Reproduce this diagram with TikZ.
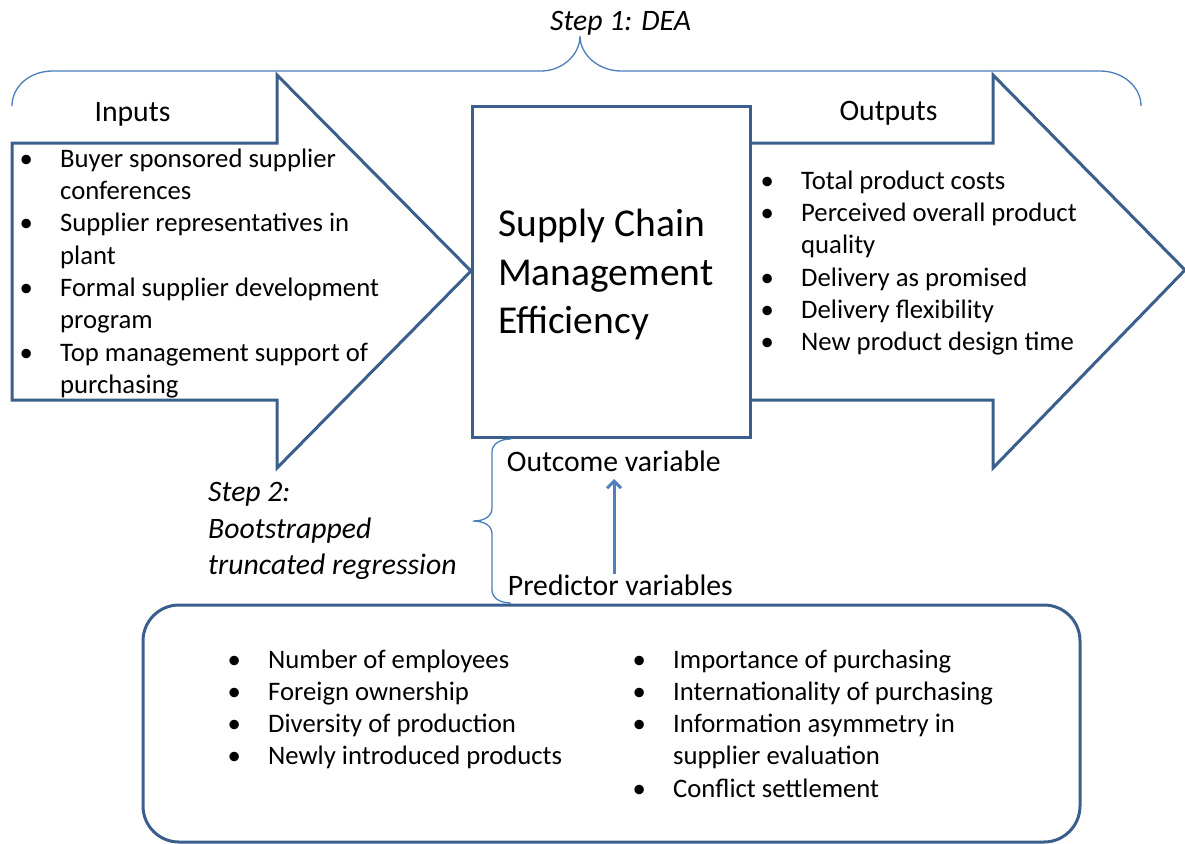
\documentclass[tikz,border=0pt]{standalone}
\usepackage{fontspec}
\setmainfont{Carlito}
\usetikzlibrary{arrows.meta}
\definecolor{shapeblue}{HTML}{3B5F8C}
\definecolor{braceblue}{HTML}{4A7EBB}
\definecolor{arrowblue}{HTML}{4F81BD}
\newcommand{\bitem}[1]{\makebox[12pt][c]{\textbullet}\hspace{28pt}#1}
\newcommand{\bcont}[1]{\hspace*{40pt}#1}
\begin{document}
\begin{tikzpicture}[x=1pt,y=-1pt,
  shapeline/.style={draw=shapeblue, line width=3pt, line join=miter, fill=white},
  bracel/.style={draw=braceblue, line width=1.3pt},
  txt/.style={inner sep=0pt, anchor=base west, align=left},
  bul/.style={txt, font=\fontsize{26.7}{32.3}\selectfont},
  head/.style={inner sep=0pt, anchor=base, font=\fontsize{29.7}{36}\selectfont},
  lab/.style={txt, font=\fontsize{29.7}{36}\selectfont},
]
\useasboundingbox (0,0) rectangle (1185,843);

% top brace (Step 1)
\draw[bracel] (12,106) .. controls (12,87) and (29,71) .. (53,71) -- (541,71)
  .. controls (562,71) and (580,55) .. (580,36)
  .. controls (580,55) and (599,71) .. (621,71) -- (1100,71)
  .. controls (1123,71) and (1141,87) .. (1141,106);
\node[head, font=\fontsize{29.7}{36}\selectfont\itshape] (step1) at (620.5,31) {Step 1: DEA};

% arrows
\draw[shapeline] (12,143) -- (277,143) -- (277,75) -- (471,271) -- (277,468) -- (277,400) -- (12,400) -- cycle;
\draw[shapeline] (750,143) -- (993,143) -- (993,75) -- (1185,270) -- (993,468) -- (993,400) -- (750,400) -- cycle;

% central box
\node[shapeline, minimum width=278pt, minimum height=331pt, inner sep=0pt] (scm) at (611,272) {};
\node[txt, font=\fontsize{39.5}{48.3}\selectfont] (scmtext) at (498,333.3) {Supply Chain\\Management\\Efficiency};

% headings
\node[head] (inputs) at (132.5,121.7) {Inputs};
\node[head] (outputs) at (888.5,120.7) {Outputs};

% input list (anchor = baseline of last line)
\node[bul] (inlist) at (20,393.4) {\bitem{Buyer sponsored supplier}\\
\bcont{conferences}\\
\bitem{Supplier representatives in}\\
\bcont{plant}\\
\bitem{Formal supplier development}\\
\bcont{program}\\
\bitem{Top management support of}\\
\bcont{purchasing}};

% output list
\node[bul] (outlist) at (761,350.8) {\bitem{Total product costs}\\
\bitem{Perceived overall product}\\
\bcont{quality}\\
\bitem{Delivery as promised}\\
\bitem{Delivery flexibility}\\
\bitem{New product design time}};

% step 2 brace
\draw[bracel] (511,439) .. controls (500,439) and (492,444) .. (492,452) -- (492,508)
  .. controls (492,516) and (485,521) .. (473,521)
  .. controls (485,521) and (492,526) .. (492,534) -- (492,590)
  .. controls (492,598) and (500,603) .. (511,603);
\node[lab, font=\fontsize{29.7}{36.6}\selectfont\itshape] (step2) at (208,574.9) {Step 2:\\Bootstrapped\\truncated regression};

\node[lab] (outcome) at (506.7,471.7) {Outcome variable};
\node[lab] (predictor) at (507.7,595) {Predictor variables};
\coordinate (arrbot) at (614,574);
\coordinate (arrtop) at (614,479);
\draw[draw=arrowblue, line width=3pt, -{Straight Barb[length=7pt,width=14pt]}] (arrbot) -- (arrtop);

% predictor box
\node[draw=shapeblue, line width=3pt, rounded corners=36pt, minimum width=937pt, minimum height=237pt, inner sep=0pt] (predbox) at (611.5,723.5) {};

\node[bul] (predleft) at (228,764.9) {\bitem{Number of employees}\\
\bitem{Foreign ownership}\\
\bitem{Diversity of production}\\
\bitem{Newly introduced products}};
\node[bul] (predright) at (633,797.2) {\bitem{Importance of purchasing}\\
\bitem{Internationality of purchasing}\\
\bitem{Information asymmetry in}\\
\bcont{supplier evaluation}\\
\bitem{Conflict settlement}};
\end{tikzpicture}
\end{document}
